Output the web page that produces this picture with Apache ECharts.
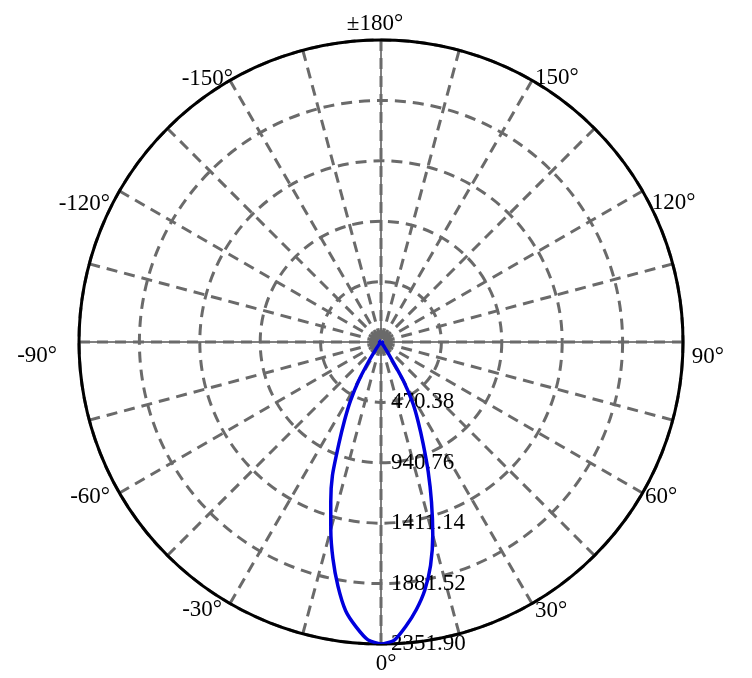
<!DOCTYPE html>
<html>
<head>
<meta charset="utf-8">
<script src="https://cdn.jsdelivr.net/npm/echarts@6/dist/echarts.min.js"></script>
<style>
html,body{margin:0;padding:0;background:#fff;}
#chart{width:752px;height:678px;}
</style>
</head>
<body>
<div id="chart"></div>
<script>
// Polar luminous intensity distribution (angle in degrees, value in cd)
const angles = [-180,-165,-150,-135,-120,-105,-90,-75,-60,-50,-45,-40,-37.5,-35,-32.5,-30,-27.5,-25,-22.5,-20,-17.5,-15,-12.5,-10,-7.5,-5,-2.5,
  0,2.5,5,7.5,10,12.5,15,17.5,20,22.5,25,27.5,30,32.5,35,37.5,40,45,50,60,75,90,105,120,135,150,165,180];
const intensity = [10,10,10,10,10,10,11,12,13,14,15,16,31,70,171,350,514,670,857,1106,1301,1511,1729,1931,2111,2227,2322,
  2351.9,2326,2222,2103,1963,1783,1558,1308,1075,857,685,537,350,109,31,20,16,15,14,13,12,11,10,10,10,10,10,10];
const radiusTicks = [0, 470.38, 940.76, 1411.14, 1881.52, 2351.90];
const angleTickStep = 15;
const angleLabelTicks = [0, 30, 60, 90, 120, 150, 180, -150, -120, -90, -60, -30];

// the angle axis runs 0..360 counter-clockwise from the bottom; negative angles map to 360 + a
const toAxis = a => (a < 0 ? a + 360 : a);
const curve = angles.map((a, i) => [intensity[i], toAxis(a)]);
const rMax = radiusTicks[radiusTicks.length - 1];
const crossV = [[rMax, 180], [0, 0], [rMax, 0]];
const crossH = [[rMax, 90], [0, 0], [rMax, 270]];

// per-label nudges (padding: top, right, bottom, left) — style only
const labelPad = {
  '0': [57.5, 0, 0, 10],
  '30': [37.9, 0, 0, 27.5],
  '60': [16.5, 0, 0, 44.9],
  '90': [29, 0, 0, 57.7],
  '120': [0, 0, 1, 51.6],
  '150': [0, 0, 33.4, 27.5],
  '180': [0, 12, 53.5, 0],
  '-150': [0, 21.5, 32.4, 0],
  '-120': [0, 51.9, 0.5, 0],
  '-90': [28, 71, 0, 0],
  '-60': [16.5, 51.9, 0, 0],
  '-30': [37.4, 32.5, 0, 0]
};
const key = a => 'k' + String(a).replace('-', 'm');
const rich = {};
angleLabelTicks.forEach(a => { rich[key(a)] = { padding: labelPad[String(a)] }; });

const chart = echarts.init(document.getElementById('chart'));
const gray = '#6a6a6a';
const font = '"Liberation Serif","Times New Roman",serif';
Object.values(rich).forEach(r => { r.fontFamily = font; r.fontSize = 23; r.color = '#000'; });
chart.setOption({
  animation: false,
  backgroundColor: '#ffffff',
  polar: { center: [381, 342], radius: 302 },
  angleAxis: {
    type: 'value', min: 0, max: 360, interval: angleTickStep,
    startAngle: -90, clockwise: false, z: 3,
    axisLine: { show: true, lineStyle: { color: '#000', width: 3 } },
    axisTick: { show: false },
    axisLabel: {
      margin: -49, color: '#000', fontFamily: font, fontSize: 23, rich: rich,
      formatter: v => {
        if (v === 360 || v % 30 !== 0) return '';
        const a = v > 180 ? v - 360 : v;
        const txt = (a === 180 ? '\u00b1180' : String(a)) + '\u00b0';
        return '{' + key(a) + '|' + txt + '}';
      }
    },
    splitLine: { show: true, lineStyle: { color: gray, width: 3, type: [11, 7] } }
  },
  radiusAxis: {
    type: 'value', min: 0, max: rMax, interval: radiusTicks[1], z: 3,
    axisLine: { show: false },
    axisTick: { show: false },
    axisLabel: {
      color: '#000', fontFamily: font, fontSize: 23, margin: 10,
      formatter: v => v === 0 ? '' : v.toFixed(2)
    },
    splitLine: { show: true, lineStyle: { color: gray, width: 3, type: [11, 7] } }
  },
  series: [
    { type: 'line', coordinateSystem: 'polar', data: crossV, symbol: 'none', z: 1, silent: true,
      lineStyle: { color: '#000', width: 1 } },
    { type: 'line', coordinateSystem: 'polar', data: crossH, symbol: 'none', z: 1, silent: true,
      lineStyle: { color: '#000', width: 1 } },
    { type: 'line', coordinateSystem: 'polar', data: curve, symbol: 'none', z: 10, smooth: 0.2,
      lineStyle: { color: '#0000dd', width: 3.5 } }
  ]
});
</script>
</body>
</html>
